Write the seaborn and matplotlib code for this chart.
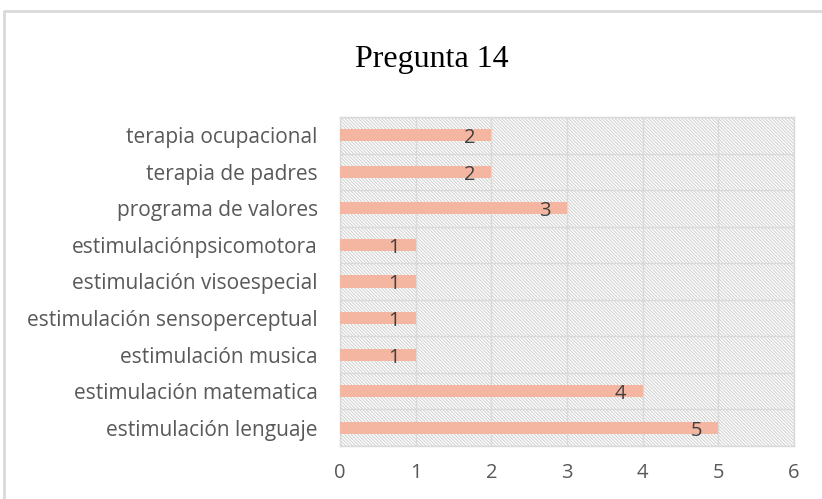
import matplotlib
matplotlib.use("Agg")
import matplotlib.pyplot as plt
import matplotlib.patches as mpatches
import matplotlib.lines as mlines
import numpy as np
import pandas as pd
import seaborn as sns

# data (top to bottom as shown)
categorias = ["terapia ocupacional", "terapia de padres", "programa de valores",
              "estimulaciónpsicomotora", "estimulación visoespecial",
              "estimulación sensoperceptual", "estimulación musica",
              "estimulación matematica", "estimulación lenguaje"]
valores = [2, 2, 3, 1, 1, 1, 1, 4, 5]
xticks = [0, 1, 2, 3, 4, 5, 6]

df = pd.DataFrame({"categoria": categorias, "valor": valores})

sns.set_theme(style="white")
plt.rcParams['font.family'] = ['Open Sans', 'DejaVu Sans']
plt.rcParams['hatch.linewidth'] = 0.7
plt.rcParams['hatch.color'] = '#cfcfcf'

fig = plt.figure(figsize=(8.22, 4.99), dpi=100)
ax = fig.add_axes([340/822, 1-446/499, 454/822, 329/499])

# hatched plot background
bg = mpatches.Rectangle((0, 0), 1, 1, transform=ax.transAxes, facecolor='white',
                        edgecolor='#cfcfcf', hatch='\\' * 10, linewidth=0, zorder=0.1)
ax.add_patch(bg)

sns.barplot(data=df, x="valor", y="categoria", orient='h', color='#F4B6A0',
            width=0.33, saturation=1, linewidth=0, ax=ax, zorder=3)

for i, v in enumerate(valores):
    ax.text(v - 0.29, i + 0.08, str(v), ha='center', va='center',
            fontsize=14.5, color='#404040', zorder=4)

ax.set_xlim(0, 6)
ax.set_ylim(len(categorias) - 0.5, -0.5)
ax.set_xticks(xticks)
ax.set_xticklabels([str(t) for t in xticks], fontsize=14.5, color='#595959')
ax.set_yticks(range(len(categorias)))
ax.set_yticklabels(categorias, fontsize=15, color='#595959')
ax.set_yticks(np.arange(-0.5, len(categorias)), minor=True)
ax.tick_params(axis='y', which='major', length=0, pad=16)
ax.tick_params(axis='y', which='minor', length=6, color='#d9d9d9', width=1)
ax.tick_params(axis='x', length=0, pad=12)
ax.set_axisbelow(True)
ax.grid(axis='x', color='#d9d9d9', linewidth=1)
ax.grid(axis='y', which='minor', color='#d9d9d9', linewidth=1)
ax.set_xlabel("")
ax.set_ylabel("")
for s in ax.spines.values():
    s.set_color('#d9d9d9')
    s.set_linewidth(1)

fig.text(432/822, 1 - 60/499, "Pregunta 14", ha='center', va='center',
         fontsize=23, family=['Liberation Serif', 'DejaVu Serif'], color='black')

# outer chart border (left and top)
fig.add_artist(mlines.Line2D([4/822, 4/822, 1], [0, 1-11/499, 1-11/499],
                             transform=fig.transFigure, color='#d9d9d9', linewidth=2))

fig.savefig("out.png", dpi=100)
